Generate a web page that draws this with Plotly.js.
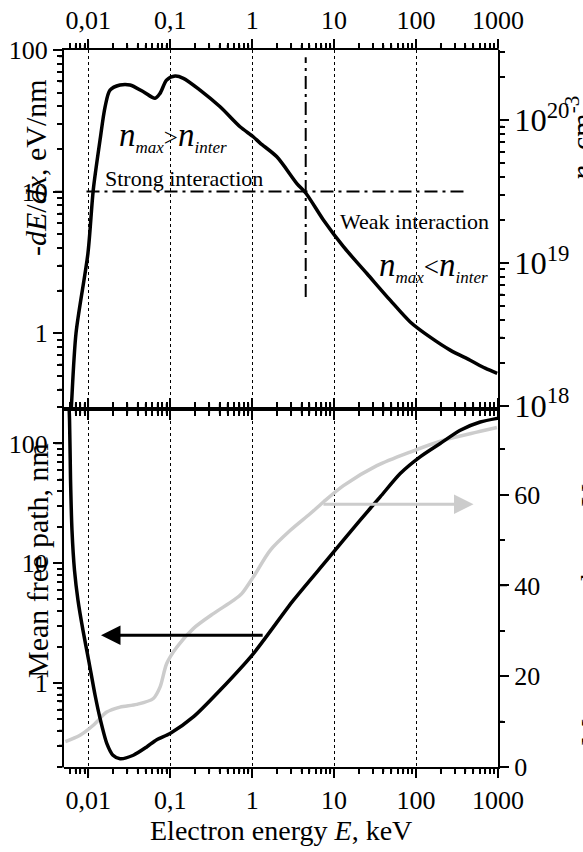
<!DOCTYPE html>
<html><head><meta charset="utf-8">
<script src="https://cdn.plot.ly/plotly-3.0.1.min.js"></script>
<style>html,body{margin:0;padding:0;background:#fff}</style>
</head><body><div id="chart" style="width:583px;height:852px"></div>
<script>
// ---- data ----
const energyStop = [0.00598,0.0062,0.00708,0.0099,0.0115,0.0139,0.0160,0.0184,0.0244,0.0323,0.0470,0.0652,0.0750,0.0905,0.1146,0.1446,0.231,0.406,0.711,1.03,1.25,2.0,3.51,4.55,7.40,13.0,25.1,48.3,84.8,148.6,260.6,457,697,977];
const stoppingPower = [0.206,0.295,1.0,3.67,10.3,23.1,39.5,52.1,56.6,56.6,50.7,45.6,49.4,61.4,65.5,63.1,52.1,39.7,28.7,24.4,22.0,17.6,11.4,9.70,6.30,4.08,2.64,1.71,1.20,0.937,0.759,0.644,0.566,0.521];

const energyMfp = [0.00565,0.00590,0.00607,0.00632,0.00678,0.00748,0.00861,0.0102,0.0121,0.0139,0.0168,0.0200,0.0244,0.0354,0.0516,0.0684,0.0995,0.191,0.405,1.035,3.19,8.15,20.8,36.5,64.1,112,197,346,607,977];
const meanFreePath = [338,156.6,49.4,18.9,8.75,4.91,2.75,1.49,0.789,0.507,0.313,0.249,0.233,0.249,0.292,0.336,0.378,0.520,0.869,1.76,4.91,10.6,22.9,35.8,56.1,77.3,100,129,151,162];

const energyLoss = [0.00525,0.00792,0.0115,0.0168,0.0244,0.0390,0.0622,0.0750,0.0905,0.120,0.191,0.336,0.589,0.746,1.035,1.65,2.90,5.09,7.40,13.0,33.2,84.7,216,552,970];
const lossValues = [5.6,7.0,9.2,12.1,13.2,13.8,15.1,17.6,22.8,26.4,30.5,33.8,36.7,38.2,41.9,47.7,52.1,55.8,58.4,62.0,66.4,69.4,72.0,73.8,74.8];

const strongWeakE = [0.0095, 400];
const strongWeakY = [10, 10];
const crossE = [4.5, 4.5];
const crossY = [1.8, 89];

// tick values
const energyTicks = [0.01, 0.1, 1, 10, 100, 1000];
const stopTicks = [1, 10, 100];
const densityTicks = [1e18, 1e19, 1e20];
const mfpTicks = [1, 10, 100];
const lossTicks = [0, 20, 40, 60];
const lossMinorTicks = [10, 30, 50, 70];
const logTickStep = 1;
const lossTickStep = 20;
const lossMinorStep = 10;

const FONT = 'Liberation Serif, Times New Roman, serif';
const xRange = [Math.log10(0.00505), 3];
const mfpRange = [-0.702, 2.292];
const lossRange = [0, 79];
const stopRange = [-0.532, 2];
const densityRange = [17.98, 20.49];

function baseAxis(extra) {
  return Object.assign({
    showline: true, linecolor: 'black', linewidth: 2,
    ticks: 'outside', ticklen: 9, tickwidth: 1.5, tickcolor: 'black',
    tickfont: {family: FONT, size: 26, color: 'black'},
    zeroline: false, showgrid: false
  }, extra);
}
function logMinor() {
  return {ticks: 'outside', ticklen: 5, tickwidth: 1.5, tickcolor: 'black', dtick: 'D1'};
}

// subplots: xy = lower panel, grey curve on linear right axis (y)
//           x3y2 = lower panel, mean free path on log left axis (y2), drawn above the grey
//           x2y3 = upper panel, stopping power on log left axis (y3)
//           x4y4 = upper panel, density axis on the right (y4)
const traces = [
  {x: energyLoss, y: lossValues, xaxis: 'x', yaxis: 'y', mode: 'lines',
   line: {color: '#cccccc', width: 3.5, shape: 'spline', smoothing: 0.8}, hoverinfo: 'skip'},
  {x: energyStop, y: stoppingPower, xaxis: 'x2', yaxis: 'y3', mode: 'lines',
   line: {color: 'black', width: 3.5, shape: 'spline', smoothing: 0.8}, hoverinfo: 'skip'},
  {x: strongWeakE, y: strongWeakY, xaxis: 'x2', yaxis: 'y3', mode: 'lines',
   line: {color: 'black', width: 2, dash: '13px,5px,3px,5px'}, hoverinfo: 'skip'},
  {x: crossE, y: crossY, xaxis: 'x2', yaxis: 'y3', mode: 'lines',
   line: {color: 'black', width: 2, dash: '13px,5px,3px,5px'}, hoverinfo: 'skip'},
  {x: energyMfp, y: meanFreePath, xaxis: 'x3', yaxis: 'y2', mode: 'lines',
   line: {color: 'black', width: 3.5, shape: 'spline', smoothing: 0.7}, hoverinfo: 'skip'},
  // carries the right-hand density axis of the upper panel (no visible mark)
  {x: [null], y: [null], xaxis: 'x4', yaxis: 'y4', mode: 'lines', hoverinfo: 'skip'}
];

const W = 583, H = 852, ML = 64, MR = 85, MT = 50, MB = 85;
const PW = W - ML - MR, PH = H - MT - MB;
const px = v => (v - ML) / PW;
const py = v => (H - MB - v) / PH;

// ---- tick marks as paper-referenced paths (positions from the tick values) ----
function minorLog(lo, hi) {
  const out = [];
  for (let k = Math.floor(Math.log10(lo)) - 1; k <= Math.ceil(Math.log10(hi)); k++) {
    for (let m = 2; m <= 9; m++) {
      const v = m * Math.pow(10, k);
      if (v >= lo && v <= hi) out.push(v);
    }
  }
  return out;
}
const logFrac = (v, r) => (Math.log10(v) - r[0]) / (r[1] - r[0]);
const linFrac = (v, r) => (v - r[0]) / (r[1] - r[0]);
const f = n => n.toFixed(5);
function xTickPath(vals, yBase, lenPx, dir) {
  const dy = dir * lenPx / PH;
  return vals.map(v => { const x = logFrac(v, xRange); return 'M' + f(x) + ',' + f(yBase) + 'L' + f(x) + ',' + f(yBase + dy); }).join('');
}
function yTickPath(fracs, y0, y1, xBase, lenPx, dir) {
  const dx = dir * lenPx / PW;
  return fracs.map(t => { const y = y0 + t * (y1 - y0); return 'M' + f(xBase) + ',' + f(y) + 'L' + f(xBase + dx) + ',' + f(y); }).join('');
}
const xMinor = minorLog(Math.pow(10, xRange[0]), 1000);
const tickPaths = [];
[[0, -1], [0.5, 1], [1, 1], [0.5, -1]].forEach(function (pair) {
  tickPaths.push(xTickPath(energyTicks, pair[0], 9, pair[1]));
  tickPaths.push(xTickPath(xMinor, pair[0], 5, pair[1]));
});
tickPaths.push(yTickPath(mfpTicks.map(v => logFrac(v, mfpRange)), 0, 0.5, 0, 9, -1));
tickPaths.push(yTickPath(minorLog(0.2, 197).map(v => logFrac(v, mfpRange)), 0, 0.5, 0, 5, -1));
tickPaths.push(yTickPath(lossTicks.map(v => linFrac(v, lossRange)), 0, 0.5, 1, 9, 1));
tickPaths.push(yTickPath(lossMinorTicks.map(v => linFrac(v, lossRange)), 0, 0.5, 1, 5, 1));
tickPaths.push(yTickPath(stopTicks.map(v => logFrac(v, stopRange)), 0.5, 1, 0, 9, -1));
tickPaths.push(yTickPath(minorLog(0.294, 100).map(v => logFrac(v, stopRange)), 0.5, 1, 0, 5, -1));
tickPaths.push(yTickPath(densityTicks.map(v => linFrac(Math.log10(v), densityRange)), 0.5, 1, 1, 9, 1));
tickPaths.push(yTickPath(minorLog(9.6e17, 3.08e20).map(v => linFrac(Math.log10(v), densityRange)), 0.5, 1, 1, 5, 1));
const shapes = tickPaths.filter(p => p.length).map(p => ({
  type: 'path', xref: 'paper', yref: 'paper', path: p, layer: 'above',
  line: {color: 'black', width: 1.5}
}));

// arrow positions (annotation coordinates)
const blackArrow = {tipE: 0.01428, tailE: 1.40, mfp: 2.5};
const grayArrow = {tailE: 7.1, tipE: 502, loss: 57.9};

const annotations = [
  {xref: 'paper', yref: 'paper', x: px(35), y: py(168), textangle: -90, showarrow: false,
   text: '-<i>dE</i>/<i>dx</i>, eV/nm', font: {family: FONT, size: 30, color: 'black'}, xanchor: 'center', yanchor: 'middle'},
  {xref: 'paper', yref: 'paper', x: px(37), y: py(561), textangle: -90, showarrow: false,
   text: 'Mean free path, nm', font: {family: FONT, size: 30, color: 'black'}, xanchor: 'center', yanchor: 'middle'},
  {xref: 'paper', yref: 'paper', x: px(281), y: py(830), showarrow: false,
   text: 'Electron energy <i>E</i>, keV', font: {family: FONT, size: 28, color: 'black'}, xanchor: 'center', yanchor: 'middle'},
  {xref: 'paper', yref: 'paper', x: px(103), y: py(179), showarrow: false,
   text: 'Strong interaction', font: {family: FONT, size: 22, color: 'black'}, xanchor: 'left', yanchor: 'middle'},
  {xref: 'paper', yref: 'paper', x: px(338), y: py(221), showarrow: false,
   text: 'Weak interaction', font: {family: FONT, size: 22, color: 'black'}, xanchor: 'left', yanchor: 'middle'},
  {xref: 'paper', yref: 'paper', x: px(117), y: py(137), showarrow: false,
   text: '<i>n</i><sub><span style="font-size:17px"><i>max</i></span></sub><span style="font-size:25px">&gt;</span><i>n</i><sub><span style="font-size:17px"><i>inter</i></span></sub>',
   font: {family: FONT, size: 33, color: 'black'}, xanchor: 'left', yanchor: 'middle'},
  {xref: 'paper', yref: 'paper', x: px(377), y: py(267), showarrow: false,
   text: '<i>n</i><sub><span style="font-size:17px"><i>max</i></span></sub><span style="font-size:27px">&lt;</span><i>n</i><sub><span style="font-size:17px"><i>inter</i></span></sub>',
   font: {family: FONT, size: 33, color: 'black'}, xanchor: 'left', yanchor: 'middle'},
  {xref: 'paper', yref: 'paper', x: px(579), y: py(94), textangle: -90, showarrow: false,
   text: '<i>n</i>, cm<sup>-3</sup>', font: {family: FONT, size: 30, color: 'black'}, xanchor: 'center', yanchor: 'top'},
  {xref: 'paper', yref: 'paper', x: px(590), y: py(748), textangle: -90, showarrow: false,
   text: 'Mean energy loss, eV', font: {family: FONT, size: 30, color: 'black'}, xanchor: 'center', yanchor: 'bottom'},
  {xref: 'x3', yref: 'y2', x: Math.log10(blackArrow.tipE), y: Math.log10(blackArrow.mfp),
   axref: 'x3', ayref: 'y2', ax: Math.log10(blackArrow.tailE), ay: Math.log10(blackArrow.mfp),
   text: '', showarrow: true, arrowhead: 2, arrowsize: 1.3, arrowwidth: 3, arrowcolor: 'black'},
  {xref: 'x', yref: 'y', x: Math.log10(grayArrow.tipE), y: grayArrow.loss,
   axref: 'x', ayref: 'y', ax: Math.log10(grayArrow.tailE), ay: grayArrow.loss,
   text: '', showarrow: true, arrowhead: 2, arrowsize: 1.3, arrowwidth: 3, arrowcolor: '#cccccc'}
];

const hiddenX = anchor => ({type: 'log', range: xRange, domain: [0, 1], anchor: anchor, visible: false, showgrid: false, zeroline: false});

const layout = {
  width: W, height: H,
  margin: {l: ML, r: MR, t: MT, b: MB},
  paper_bgcolor: 'white', plot_bgcolor: 'rgba(0,0,0,0)',
  showlegend: false,
  separators: ', ',
  font: {family: FONT, color: 'black'},
  xaxis: baseAxis({
    type: 'log', range: xRange, domain: [0, 1], anchor: 'y', side: 'bottom', mirror: 'ticks',
    dtick: logTickStep, exponentformat: 'none',
    showgrid: true, gridcolor: 'black', griddash: 'dot', gridwidth: 1,
    minor: logMinor()
  }),
  xaxis2: baseAxis({
    type: 'log', range: xRange, domain: [0, 1], anchor: 'y3', side: 'top', mirror: 'ticks',
    dtick: logTickStep, exponentformat: 'none',
    showgrid: true, gridcolor: 'black', griddash: 'dot', gridwidth: 1,
    minor: logMinor()
  }),
  xaxis3: hiddenX('y2'),
  xaxis4: hiddenX('y4'),
  yaxis: baseAxis({
    type: 'linear', range: lossRange, domain: [0, 0.5], anchor: 'x', side: 'right',
    dtick: lossTickStep,
    minor: {ticks: 'outside', ticklen: 5, tickwidth: 1.5, tickcolor: 'black', dtick: lossMinorStep}
  }),
  yaxis2: baseAxis({
    type: 'log', range: mfpRange, domain: [0, 0.5], anchor: 'x3', side: 'left',
    dtick: logTickStep, exponentformat: 'none',
    minor: logMinor()
  }),
  yaxis3: baseAxis({
    type: 'log', range: stopRange, domain: [0.5, 1], anchor: 'x2', side: 'left',
    dtick: logTickStep, exponentformat: 'none',
    minor: logMinor()
  }),
  yaxis4: baseAxis({
    type: 'log', range: densityRange, domain: [0.5, 1], anchor: 'x4', side: 'right',
    dtick: logTickStep, exponentformat: 'power',
    minor: logMinor()
  }),
  shapes: shapes,
  annotations: annotations
};

Plotly.newPlot('chart', traces, layout, {displayModeBar: false});
</script>
</body></html>
